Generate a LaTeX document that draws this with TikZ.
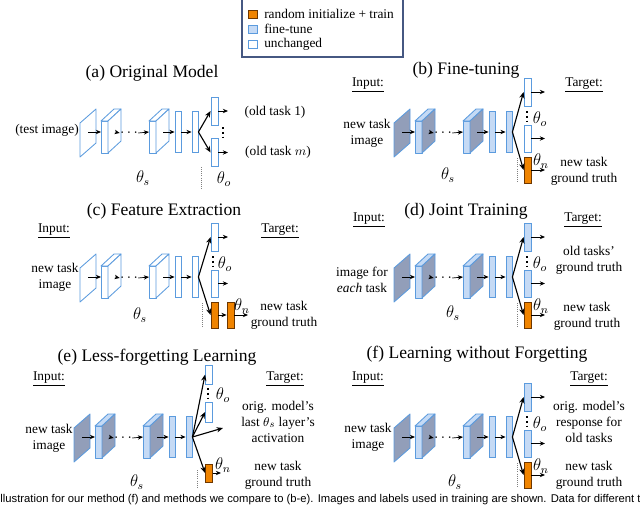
\documentclass[tikz,border=0pt]{standalone}
\usepackage{fontspec}
\setmainfont{Liberation Serif}
\newfontfamily\capfont{Liberation Sans}
\usetikzlibrary{positioning, arrows.meta}
\definecolor{lineblue}{RGB}{91,155,222}
\definecolor{tune}{RGB}{197,218,245}
\definecolor{dark}{RGB}{146,158,185}
\definecolor{neworange}{RGB}{240,132,0}
\definecolor{neworangeline}{RGB}{110,55,0}
\definecolor{legendline}{RGB}{70,88,130}

\begin{document}
\begin{tikzpicture}[x=0.025cm, y=-0.025cm]
        \tikzstyle{layer} = [draw=lineblue, line width=0.6pt, line join=round]
        \tikzstyle{fc} = [rectangle, draw=lineblue, line width=0.6pt, minimum width=0.15cm,
          minimum height=1.03cm, inner sep=0pt]
        \tikzstyle{head} = [rectangle, draw=lineblue, line width=0.6pt, fill=white,
          minimum width=0.175cm, minimum height=0.7cm, inner sep=0pt]
        \tikzstyle{newhead} = [rectangle, draw=neworangeline, line width=0.6pt, fill=neworange,
          minimum width=0.175cm, minimum height=0.65cm, inner sep=0pt]
        \tikzstyle{key} = [rectangle, line width=0.6pt, minimum width=0.225cm, minimum height=0.2cm, inner sep=0pt]
        \tikzstyle{flow} = [-{Stealth[length=1.3mm, width=1.1mm]}, line width=0.5pt]
        \tikzstyle{branch} = [-{Stealth[length=1.6mm, width=1.3mm]}, line width=0.8pt]
        \tikzstyle{title} = [font=\fontsize{12.5}{14}\selectfont, inner sep=0pt]
        \tikzstyle{lbl} = [font=\fontsize{9.5}{11.4}\selectfont, align=center, inner sep=0pt]
        \tikzstyle{param} = [font=\fontsize{12}{14}\selectfont, inner sep=0pt]
        \tikzstyle{sep} = [densely dotted, gray, line width=0.5pt]
        \tikzstyle{vdots} = [line width=1.6pt, dash pattern=on 1.6pt off 1.8pt]

        \clip (0,0) rectangle (640,507);

        % legend
        \draw[legendline, line width=0.8pt, fill=white] (242,-2) rectangle (403,57);
        \node[key, draw=neworangeline, fill=neworange] (key-new) at (252.5,14) {};
        \node[key, draw=lineblue, fill=tune] (key-tune) at (252.5,29) {};
        \node[key, draw=lineblue, fill=white] (key-same) at (252.5,44) {};
        \node[lbl, anchor=west] at (264,14) {random initialize + train};
        \node[lbl, anchor=west] at (264,29) {fine-tune};
        \node[lbl, anchor=west] at (264,44) {unchanged};

        % shared layers of every panel
        \foreach \pn/\bx/\by/\fa/\fb in {a/80/132/white/white, b/394/132/tune/dark,
            c/80/277/white/white, d/394/277/tune/dark, e/74/437/tune/dark, f/394/437/tune/dark}{
          \begin{scope}[shift={(\bx,\by)}]
            \draw[layer, fill=\fb] (0,-9) -- (16,-23) -- (16,11) -- (0,25) -- cycle;
            \coordinate (\pn-in) at (8,0);
            \foreach \c [count=\k] in {21,69}{
              \draw[layer, fill=\fa] (\c,-11) rectangle ++(7,32);
              \draw[layer, fill=\fa] (\c,-11) -- ++(13,-12) -- ++(7,0) -- ++(-13,12) -- cycle;
              \draw[layer, fill=\fb] (\c+7,-11) -- ++(13,-12) -- ++(0,32) -- ++(-13,12) -- cycle;
              \coordinate (\pn-c\k-w) at (\c,0);
              \coordinate (\pn-c\k-e) at (\c+14,0);
            }
            \node[inner sep=0pt, font=\fontsize{11}{12}\selectfont] (\pn-dots) at (49,1) {$\cdots$};
            \node[fc, fill=\fa] (\pn-fc1) at (98,0) {};
            \node[fc, fill=\fa] (\pn-fc2) at (115,0) {};
            \coordinate (\pn-br) at (\pn-fc2.east);
            \draw[flow] (\pn-in) -- (\pn-c1-w);
            \draw[flow] (\pn-c1-e) -- (\pn-dots.west);
            \draw[flow] (\pn-dots.east) -- (\pn-c2-w);
            \draw[flow] (\pn-c2-e) -- (\pn-fc1.west);
            \draw[flow] (\pn-fc1.east) -- (\pn-fc2.west);
          \end{scope}
        }

        % (a) heads
        \begin{scope}[shift={(80,132)}]
          \node[head] (a-h1) at (134.5,-21) {};
          \node[head] (a-h2) at (134.5,20.5) {};
          \coordinate (a-o1) at (148,-21);
          \coordinate (a-o2) at (148,20.5);
          \draw[branch] (a-br) -- (a-h1.west);
          \draw[branch] (a-br) -- (a-h2.west);
          \draw[flow] (a-h1.east) -- (a-o1);
          \draw[flow] (a-h2.east) -- (a-o2);
          \draw[vdots] (143,-5) -- (143,6);
          \draw[sep] (121,35) -- (121,58);
          \node[param] (a-ts) at (63,46) {$\theta_s$};
          \node[param] (a-to) at (144,47) {$\theta_o$};
        \end{scope}

        % (b), (d), (f) heads
        \foreach \pn/\bx/\by/\hf/\sx/\sy in {b/394/132/white/54/43, d/394/277/tune/59/36, f/394/437/tune/61/45}{
          \begin{scope}[shift={(\bx,\by)}]
            \node[head, fill=\hf] (\pn-h1) at (133.5,-40) {};
            \node[head, fill=\hf, minimum height=0.675cm] (\pn-h2) at (133.5,6.5) {};
            \node[newhead] (\pn-hn) at (133.5,38) {};
            \coordinate (\pn-o1) at (151,-40);
            \coordinate (\pn-o2) at (151,6.5);
            \coordinate (\pn-o3) at (151,38);
            \draw[branch] (\pn-br) -- (\pn-h1.west);
            \draw[branch] (\pn-br) -- (\pn-hn.west);
            \draw[flow] (\pn-h1.east) -- (\pn-o1);
            \draw[flow] (\pn-h2.east) -- (\pn-o2);
            \draw[flow] (\pn-hn.east) -- (\pn-o3);
            \draw[vdots] (133,-21) -- (133,-10);
            \draw[sep] (123,26) -- (123,51);
            \node[param] (\pn-ts) at (\sx,\sy) {$\theta_s$};
            \node[param] (\pn-to) at (146,-13) {$\theta_o$};
            \node[param] (\pn-tn) at (147,29) {$\theta_n$};
          \end{scope}
        }

        % (c) heads
        \begin{scope}[shift={(80,277)}]
          \node[head] (c-h1) at (134.5,-40) {};
          \node[head, minimum height=0.675cm] (c-h2) at (134.5,6.5) {};
          \node[newhead] (c-hn) at (134.5,38) {};
          \node[newhead] (c-hn2) at (150.5,38) {};
          \coordinate (c-o1) at (148,-40);
          \coordinate (c-o2) at (148,6.5);
          \coordinate (c-o3) at (168,38);
          \draw[branch] (c-br) -- (c-h1.west);
          \draw[branch] (c-br) -- (c-hn.west);
          \draw[flow] (c-h1.east) -- (c-o1);
          \draw[flow] (c-h2.east) -- (c-o2);
          \draw[flow] (c-hn.east) -- (c-hn2.west);
          \draw[flow] (c-hn2.east) -- (c-o3);
          \draw[vdots] (133,-21) -- (133,-10);
          \draw[sep] (122,26) -- (122,51);
          \node[param] (c-ts) at (60,38) {$\theta_s$};
          \node[param] (c-to) at (145,-13) {$\theta_o$};
          \node[param] (c-tn) at (162,29) {$\theta_n$};
        \end{scope}

        % (e) heads
        \begin{scope}[shift={(74,437)}]
          \node[head, minimum height=0.475cm] (e-h1) at (135,-62.5) {};
          \node[head, minimum height=0.5cm] (e-h2) at (135,-25) {};
          \node[newhead, minimum height=0.45cm] (e-hn) at (135,36) {};
          \coordinate (e-act) at (149,-9);
          \coordinate (e-o3) at (147,36);
          \draw[branch] (e-br) -- (e-h1.west);
          \draw[branch] (e-br) -- (e-h2.west);
          \draw[branch] (e-br) -- (e-act);
          \draw[branch] (e-br) -- (e-hn.west);
          \draw[flow] (e-hn.east) -- (e-o3);
          \draw[vdots] (134,-49) -- (134,-38);
          \draw[sep] (123,33) -- (123,51);
          \node[param] (e-ts) at (63,45) {$\theta_s$};
          \node[param] (e-to) at (149,-42) {$\theta_o$};
          \node[param] (e-tn) at (149,28) {$\theta_n$};
        \end{scope}

        % titles
        \node[title] (a-title) at (152,73) {(a) Original Model};
        \node[title] (b-title) at (466,70) {(b) Fine-tuning};
        \node[title] (c-title) at (164,211) {(c) Feature Extraction};
        \node[title] (d-title) at (466,211) {(d) Joint Training};
        \node[title] (e-title) at (157,357) {(e) Less-forgetting Learning};
        \node[title] (f-title) at (477,354) {(f) Learning without Forgetting};

        % input and target labels
        \foreach \pn/\ix/\iy/\tx/\ty in {b/368/85/584/85, c/54/231/280/231, d/369/220/583/220,
            e/49/379/285/379, f/368/379/589/379}{
          \node[lbl] (\pn-input) at (\ix,\iy) {\underline{Input:}};
          \node[lbl] (\pn-target) at (\tx,\ty) {\underline{Target:}};
        }
        \node[lbl] (a-img) at (47,130) {(test image)};
        \node[lbl] (b-img) at (367,133) {new task\\image};
        \node[lbl] (c-img) at (55,277) {new task\\image};
        \node[lbl] (d-img) at (362,280) {image for\\\textit{each} task};
        \node[lbl] (e-img) at (49,438) {new task\\image};
        \node[lbl] (f-img) at (368,437) {new task\\image};

        \node[lbl] (a-old1) at (275,112) {(old task 1)};
        \node[lbl] (a-oldm) at (278,152) {(old task $m$)};
        \node[lbl] (b-new) at (584,171) {new task\\ground truth};
        \node[lbl] (c-new) at (284,315) {new task\\ground truth};
        \node[lbl] (d-old) at (589,260) {old tasks'\\ground truth};
        \node[lbl] (d-new) at (587,316) {new task\\ground truth};
        \node[lbl] (e-old) at (278,422) {orig. model's\\last $\theta_s$ layer's\\activation};
        \node[lbl] (e-new) at (278,475) {new task\\ground truth};
        \node[lbl] (f-old) at (589,422) {orig. model's\\response for\\old tasks};
        \node[lbl] (f-new) at (589,475) {new task\\ground truth};

        % caption
        \node[anchor=west, inner sep=0pt, font=\capfont\fontsize{8}{9.5}\selectfont] (caption) at (-3,500)
          {Illustration for our method (f) and methods we compare to (b-e). Images and labels used in training are shown. Data for different tasks};
\end{tikzpicture}
\end{document}
